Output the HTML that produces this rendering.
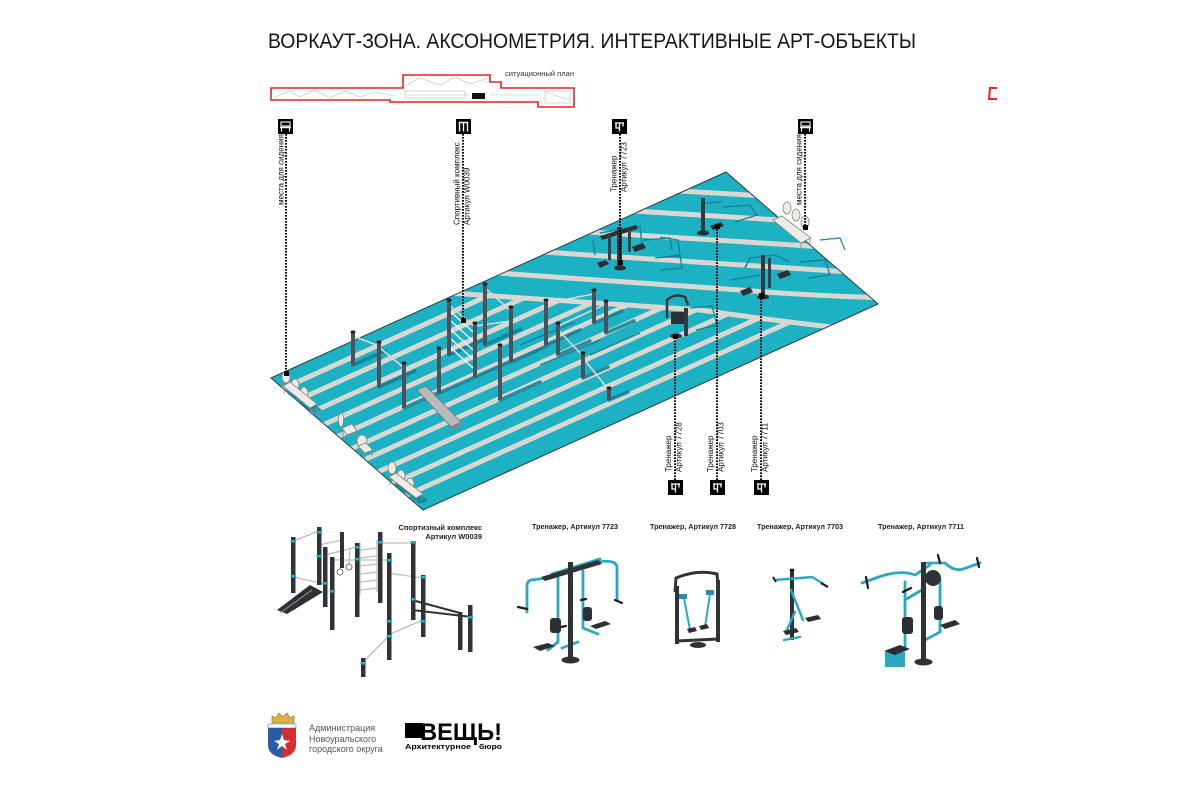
<!DOCTYPE html>
<html><head><meta charset="utf-8">
<style>
html,body{margin:0;padding:0;background:#fff;}
svg{display:block;}
text{font-family:"Liberation Sans","DejaVu Sans",sans-serif;}
</style></head><body>
<svg width="1200" height="799" viewBox="0 0 1200 799" xmlns="http://www.w3.org/2000/svg">
<defs>
<clipPath id="plat"><polygon points="271,378 726,172 878,304 423,510"/></clipPath>
<clipPath id="lower"><path d="M271,378 L457,294 L700,310 Q770,320 830,326 L423,510 Z"/></clipPath>
</defs>
<rect width="1200" height="799" fill="#fff"/>

<!-- Title -->
<text x="268" y="48" font-size="21" fill="#151515" textLength="648" lengthAdjust="spacingAndGlyphs">ВОРКАУТ-ЗОНА. АКСОНОМЕТРИЯ. ИНТЕРАКТИВНЫЕ АРТ-ОБЪЕКТЫ</text>

<!-- Situational plan -->
<polygon points="271,88 403,88 403,75 490,75 490,82 501,82 501,88 574,88 574,107 538,107 538,102 390,102 390,100 271,100" fill="#fff" stroke="#e52420" stroke-width="1.6"/>
<g stroke="#bbb" stroke-width="0.6" fill="none">
<path d="M275,97 L290,91 L300,97 L315,90 L330,98 L345,91 L360,97 L375,92 L395,96"/>
<path d="M405,86 L420,78 L440,85 L455,77 L470,84 L488,78"/>
<path d="M405,95 L470,95 M490,95 L540,95 M545,92 L570,100"/>
<rect x="405" y="91" width="60" height="7"/>
<rect x="545" y="91" width="25" height="12"/>
</g>
<rect x="472" y="93" width="13" height="6" fill="#111"/>
<text x="505" y="76" font-size="7" fill="#333" textLength="69" lengthAdjust="spacingAndGlyphs">ситуационный план</text>

<!-- red mark right -->
<polyline points="997,88 990,88 989,99 997,99" fill="none" stroke="#e52420" stroke-width="2"/>

<!-- Platform -->
<polygon points="271,378 726,172 878,304 423,510" fill="#1cb2c3"/>
<g clip-path="url(#plat)" stroke="#d9d7d0" stroke-width="5" fill="none">
<path d="M680,191 L765,196"/>
<path d="M634,211 L795,221"/>
<path d="M588,232 L825,247"/>
<path d="M543,252 L850,272"/>
<path d="M498,273 L740,290 Q800,295 885,298"/>
<path d="M450,293 L700,310 Q770,320 840,328"/>
</g>
<g clip-path="url(#lower)" stroke="#d9d7d0" stroke-width="5" fill="none">
<path d="M273,393 L753,176"/>
<path d="M287,405 L767,188"/>
<path d="M301,417 L781,200"/>
<path d="M314,429 L794,211"/>
<path d="M328,441 L808,223"/>
<path d="M342,453 L822,235"/>
<path d="M355,464 L835,247"/>
<path d="M369,476 L849,259"/>
<path d="M383,488 L863,271"/>
<path d="M396,500 L876,283"/>
</g>
<polygon points="271,378 726,172 878,304 423,510" fill="none" stroke="#2c3b3e" stroke-width="1"/>

<!-- shadows of objects -->
<g stroke="#117f97" stroke-width="3.5" opacity="0.85" stroke-linecap="round">
<line x1="353" y1="365" x2="385" y2="351"/>
<line x1="379" y1="387" x2="415" y2="371"/>
<line x1="404" y1="408" x2="440" y2="392"/>
<line x1="439" y1="393" x2="475" y2="377"/>
<line x1="449" y1="355" x2="485" y2="339"/>
<line x1="485" y1="345" x2="521" y2="329"/>
<line x1="475" y1="377" x2="511" y2="361"/>
<line x1="500" y1="400" x2="540" y2="382"/>
<line x1="511" y1="362" x2="547" y2="346"/>
<line x1="546" y1="345" x2="580" y2="330"/>
<line x1="558" y1="355" x2="590" y2="341"/>
<line x1="594" y1="323" x2="622" y2="311"/>
<line x1="606" y1="333" x2="634" y2="321"/>
<line x1="583" y1="378" x2="608" y2="367"/>
<line x1="609" y1="400" x2="628" y2="392"/>
</g>
<g stroke="#137a98" stroke-width="1.3" fill="none" opacity="0.9">
<path d="M540,365 L600,340 M520,345 L575,322 M590,355 L640,333"/>
<path d="M643,240 L670,238 L672,250 M655,258 L680,256 L682,268 L660,270"/>
<path d="M723,207 L750,205 L757,215 L735,222"/>
<path d="M660,237 L678,240 L680,255 L665,257"/>
<path d="M800,262 L825,260 L830,275 L808,278"/>
<path d="M820,240 L840,238 L845,250"/>
<path d="M690,308 L712,306 L717,325 L696,330"/>
<path d="M730,280 L760,275"/>
</g>

<!-- Incline board -->
<polygon points="417,390 426,386 461,422 451,427" fill="#b8bbbb" stroke="#6f7272" stroke-width="0.8"/>
<polygon points="451,427 461,422 461,425 452,430" fill="#888"/>

<!-- bars -->
<g stroke="#d7d7d7" stroke-width="1.6" fill="none">
<line x1="353" y1="336" x2="379" y2="346"/>
<line x1="379" y1="347" x2="404" y2="368"/>
<line x1="485" y1="288" x2="511" y2="311"/>
<line x1="475" y1="326" x2="511" y2="321"/>
<line x1="546" y1="303" x2="594" y2="294"/>
<line x1="558" y1="326" x2="606" y2="304"/>
<line x1="558" y1="330" x2="583" y2="356"/>
<line x1="583" y1="358" x2="609" y2="390"/>
<line x1="449" y1="305" x2="475" y2="327"/>
</g>
<g stroke="#f2f2f2" stroke-width="1.4">
<line x1="451" y1="312" x2="473" y2="332"/>
<line x1="451" y1="321" x2="473" y2="341"/>
<line x1="451" y1="330" x2="473" y2="350"/>
<line x1="451" y1="339" x2="473" y2="359"/>
<line x1="451" y1="348" x2="473" y2="368"/>
</g>

<!-- poles -->
<g fill="#4b5156">
<rect x="351" y="332" width="4" height="33"/>
<rect x="377" y="342" width="4" height="45"/>
<rect x="402" y="363" width="4" height="45"/>
<rect x="437" y="348" width="4" height="45"/>
<rect x="447" y="300" width="4" height="55"/>
<rect x="483" y="284" width="4" height="61"/>
<rect x="473" y="323" width="4" height="54"/>
<rect x="498" y="345" width="4" height="55"/>
<rect x="509" y="307" width="4" height="55"/>
<rect x="544" y="300" width="4" height="45"/>
<rect x="556" y="323" width="4" height="32"/>
<rect x="592" y="290" width="4" height="33"/>
<rect x="604" y="301" width="4" height="32"/>
<rect x="581" y="353" width="4" height="25"/>
<rect x="607" y="388" width="4" height="12"/>
</g>
<g fill="#222">
<ellipse cx="353" cy="332" rx="2.6" ry="1.6"/><ellipse cx="379" cy="342" rx="2.6" ry="1.6"/>
<ellipse cx="404" cy="363" rx="2.6" ry="1.6"/><ellipse cx="439" cy="348" rx="2.6" ry="1.6"/>
<ellipse cx="449" cy="300" rx="2.6" ry="1.6"/><ellipse cx="485" cy="284" rx="2.6" ry="1.6"/>
<ellipse cx="475" cy="323" rx="2.6" ry="1.6"/><ellipse cx="500" cy="345" rx="2.6" ry="1.6"/>
<ellipse cx="511" cy="307" rx="2.6" ry="1.6"/><ellipse cx="546" cy="300" rx="2.6" ry="1.6"/>
<ellipse cx="558" cy="323" rx="2.6" ry="1.6"/><ellipse cx="594" cy="290" rx="2.6" ry="1.6"/>
<ellipse cx="606" cy="301" rx="2.6" ry="1.6"/><ellipse cx="583" cy="353" rx="2.6" ry="1.6"/>
<ellipse cx="609" cy="388" rx="2.6" ry="1.6"/>
</g>

<!-- benches & chairs -->
<g fill="#ecebe6" stroke="#85857f" stroke-width="0.8">
<polygon points="288,394 295,390 322,410 314,414" fill="#127f97" stroke="none" opacity="0.8"/>
<ellipse cx="286" cy="377" rx="4" ry="6"/><ellipse cx="295" cy="385" rx="4" ry="6"/><ellipse cx="304" cy="393" rx="4" ry="6"/>
<polygon points="283,386 290,382 317,404 310,408"/>
<line x1="284" y1="387" x2="284" y2="394"/><line x1="310" y1="408" x2="310" y2="415"/><line x1="316" y1="404" x2="316" y2="410"/>

<polygon points="394,484 401,480 428,500 420,504" fill="#127f97" stroke="none" opacity="0.8"/>
<ellipse cx="392" cy="468" rx="4" ry="6"/><ellipse cx="401" cy="476" rx="4" ry="6"/><ellipse cx="410" cy="484" rx="4" ry="6"/>
<polygon points="389,477 396,473 423,494 416,498"/>
<line x1="390" y1="478" x2="390" y2="485"/><line x1="416" y1="498" x2="416" y2="505"/><line x1="422" y1="494" x2="422" y2="500"/>

<ellipse cx="341" cy="420" rx="2.5" ry="7"/>
<polygon points="342,428 352,424 357,431 347,435"/>
<line x1="343" y1="429" x2="343" y2="438"/><line x1="347" y1="435" x2="347" y2="442"/><line x1="356" y1="431" x2="356" y2="438"/>
<ellipse cx="362" cy="441" rx="5" ry="6"/>
<polygon points="358,446 366,443 373,450 365,453"/>
<line x1="359" y1="447" x2="359" y2="455"/><line x1="365" y1="453" x2="365" y2="459"/><line x1="372" y1="450" x2="372" y2="456"/>

<ellipse cx="787" cy="208" rx="4" ry="6"/><ellipse cx="796" cy="215" rx="4" ry="6"/><ellipse cx="805" cy="222" rx="4" ry="6"/>
<polygon points="773,220 782,216 811,238 801,243"/>
<line x1="775" y1="221" x2="775" y2="229"/><line x1="801" y1="243" x2="801" y2="251"/><line x1="810" y1="238" x2="810" y2="246"/>
</g>

<!-- equipment on platform -->
<g>
<path d="M593,240 L595,255 M600,233 L640,226 L642,245" stroke="#1a86aa" stroke-width="1.5" fill="none"/>
<rect x="617" y="227" width="5" height="40" fill="#33393e"/>
<polygon points="600,236 636,225 638,229 602,240" fill="#2b3035"/>
<rect x="608" y="235" width="3" height="25" fill="#3a4045"/>
<rect x="628" y="230" width="3" height="22" fill="#3a4045"/>
<polygon points="597,263 606,260 609,264 600,268" fill="#2a2e32"/>
<polygon points="632,247 643,243 646,248 635,252" fill="#2a2e32"/>
<ellipse cx="620" cy="268" rx="6" ry="2.5" fill="#2a2e32"/>
</g>
<g>
<rect x="701" y="198" width="4" height="34" fill="#33393e"/>
<path d="M705,203 L722,202" stroke="#1a86aa" stroke-width="1.8"/>
<polygon points="710,226 721,222 724,226 713,230" fill="#2a2e32"/>
<ellipse cx="703" cy="233" rx="6" ry="2.5" fill="#2a2e32"/>
</g>
<g>
<path d="M745,268 L750,258 L775,255 L790,262" stroke="#1a86aa" stroke-width="1.6" fill="none"/>
<rect x="761" y="255" width="4" height="42" fill="#33393e"/>
<rect x="768" y="258" width="3" height="30" fill="#3a4045"/>
<polygon points="740,291 750,287 753,292 743,296" fill="#2a2e32"/>
<polygon points="777,274 788,270 791,275 780,279" fill="#2a2e32"/>
<ellipse cx="763" cy="297" rx="6" ry="2.5" fill="#2a2e32"/>
</g>
<g>
<path d="M667,318 L667,300 Q675,293 685,297 L688,305" stroke="#33393e" stroke-width="2.5" fill="none"/>
<rect x="671" y="312" width="16" height="12" fill="#2b3035"/>
<rect x="684" y="308" width="4" height="28" fill="#33393e"/>
<ellipse cx="676" cy="336" rx="6" ry="2.5" fill="#2a2e32"/>
</g>

<!-- Leader lines -->
<g stroke="#000" stroke-width="2" stroke-dasharray="1.6,1.4" fill="none">
<line x1="286" y1="134" x2="286" y2="373"/>
<line x1="463" y1="134" x2="463" y2="320"/>
<line x1="620" y1="134" x2="620" y2="262"/>
<line x1="805" y1="134" x2="805" y2="227"/>
<line x1="675" y1="480" x2="675" y2="336"/>
<line x1="717" y1="480" x2="717" y2="226"/>
<line x1="761" y1="480" x2="761" y2="295"/>
</g>
<g fill="#000">
<rect x="284" y="371" width="5" height="5"/>
<rect x="461" y="318" width="5" height="5"/>
<rect x="618" y="260" width="5" height="5"/>
<rect x="803" y="225" width="5" height="5"/>
<rect x="673" y="334" width="5" height="5"/>
<rect x="715" y="224" width="5" height="5"/>
<rect x="759" y="293" width="5" height="5"/>
</g>

<!-- Label boxes (top) -->
<g>
<rect x="278" y="119" width="15" height="15" fill="#000"/>
<g transform="translate(278,119)" stroke="#fff" fill="none" stroke-width="1.1">
<rect x="3" y="3" width="9" height="4"/><line x1="2" y1="8.5" x2="13" y2="8.5" stroke-width="1.5"/><line x1="3.5" y1="9" x2="3.5" y2="12.5"/><line x1="11.5" y1="9" x2="11.5" y2="12.5"/></g>
<rect x="456" y="119" width="15" height="15" fill="#000"/>
<path transform="translate(456,119)" d="M3.5,12.5 V3.5 H11.5 V12.5 M7.5,3.5 V12.5" stroke="#fff" stroke-width="1.4" fill="none"/>
<rect x="612" y="119" width="15" height="15" fill="#000"/>
<path transform="translate(612,119)" d="M3,4 H12 M7.5,4 V12.5 M4,4 V9 H7.5 M11,4 V7.5" stroke="#fff" stroke-width="1.3" fill="none"/>
<rect x="798" y="119" width="15" height="15" fill="#000"/>
<g transform="translate(798,119)" stroke="#fff" fill="none" stroke-width="1.1">
<rect x="3" y="3" width="9" height="4"/><line x1="2" y1="8.5" x2="13" y2="8.5" stroke-width="1.5"/><line x1="3.5" y1="9" x2="3.5" y2="12.5"/><line x1="11.5" y1="9" x2="11.5" y2="12.5"/></g>
</g>
<!-- Label boxes (bottom) -->
<g>
<rect x="668" y="480" width="15" height="15" fill="#000"/>
<path transform="translate(668,480)" d="M3,4 H12 M7.5,4 V12.5 M4,4 V9 H7.5 M11,4 V7.5" stroke="#fff" stroke-width="1.3" fill="none"/>
<rect x="710" y="480" width="15" height="15" fill="#000"/>
<path transform="translate(710,480)" d="M3,4 H12 M7.5,4 V12.5 M4,4 V9 H7.5 M11,4 V7.5" stroke="#fff" stroke-width="1.3" fill="none"/>
<rect x="754" y="480" width="15" height="15" fill="#000"/>
<path transform="translate(754,480)" d="M3,4 H12 M7.5,4 V12.5 M4,4 V9 H7.5 M11,4 V7.5" stroke="#fff" stroke-width="1.3" fill="none"/>
</g>

<!-- Rotated labels -->
<g font-size="8" fill="#111">
<text transform="translate(283.5,205) rotate(-90)">места для сидения</text>
<text transform="translate(459.5,225) rotate(-90)">Спортивный комплекс</text>
<text transform="translate(469.5,225) rotate(-90)">Артикул W0039</text>
<text transform="translate(616.5,192) rotate(-90)">Тренажер</text>
<text transform="translate(626.5,192) rotate(-90)">Артикул 7723</text>
<text transform="translate(801.5,205) rotate(-90)">места для сидения</text>
<text transform="translate(671,472) rotate(-90)">Тренажер</text>
<text transform="translate(681.5,472) rotate(-90)">Артикул 7728</text>
<text transform="translate(713,472) rotate(-90)">Тренажер</text>
<text transform="translate(723.5,472) rotate(-90)">Артикул 7703</text>
<text transform="translate(757,472) rotate(-90)">Тренажер</text>
<text transform="translate(767.5,472) rotate(-90)">Артикул 7711</text>
</g>

<!-- Bottom product titles -->
<g font-size="7.5" font-weight="bold" fill="#222">
<text x="482" y="530" text-anchor="end">Спортизный комплекс</text>
<text x="482" y="539" text-anchor="end">Артикул W0039</text>
<text x="575" y="529" text-anchor="middle" textLength="86" lengthAdjust="spacingAndGlyphs">Тренажер, Артикул 7723</text>
<text x="693" y="529" text-anchor="middle" textLength="86" lengthAdjust="spacingAndGlyphs">Тренажер, Артикул 7728</text>
<text x="800" y="529" text-anchor="middle" textLength="86" lengthAdjust="spacingAndGlyphs">Тренажер, Артикул 7703</text>
<text x="921" y="529" text-anchor="middle" textLength="86" lengthAdjust="spacingAndGlyphs">Тренажер, Артикул 7711</text>
</g>

<!-- Sport complex product -->
<g>
<g stroke="#bdbdbd" stroke-width="1.3" fill="none">
<line x1="293" y1="541" x2="319" y2="531"/>
<line x1="293" y1="577" x2="325" y2="584"/>
<line x1="319" y1="545" x2="342" y2="540"/>
<line x1="325" y1="555" x2="357" y2="547"/>
<line x1="380" y1="543" x2="413" y2="543"/>
<line x1="387" y1="573" x2="423" y2="578"/>
<line x1="388" y1="637" x2="363" y2="662"/>
<line x1="330" y1="560" x2="389" y2="560"/>
<line x1="360" y1="542" x2="360" y2="595"/><line x1="377" y1="540" x2="377" y2="592"/>
<line x1="360" y1="550" x2="377" y2="548"/><line x1="360" y1="558" x2="377" y2="556"/>
<line x1="360" y1="566" x2="377" y2="564"/><line x1="360" y1="574" x2="377" y2="572"/>
<line x1="360" y1="582" x2="377" y2="580"/><line x1="360" y1="590" x2="377" y2="588"/>
<line x1="342" y1="545" x2="340" y2="569"/><line x1="350" y1="548" x2="349" y2="564"/>
</g>
<circle cx="340" cy="572" r="3" fill="none" stroke="#777" stroke-width="1"/>
<circle cx="349" cy="567" r="3" fill="none" stroke="#777" stroke-width="1"/>
<line x1="412" y1="610" x2="472" y2="617" stroke="#2f3337" stroke-width="2"/>
<line x1="412" y1="600" x2="460" y2="613" stroke="#2f3337" stroke-width="2"/>
<line x1="388" y1="635" x2="423" y2="620" stroke="#bdbdbd" stroke-width="1.3"/>
<polygon points="277,610 310,585 323,592 287,614" fill="#2d3135"/>
<line x1="280" y1="613" x2="312" y2="590" stroke="#999" stroke-width="1"/>
<g fill="#2f3337">
<rect x="291" y="537" width="4.5" height="56"/>
<rect x="317" y="527" width="4.5" height="58"/>
<rect x="323" y="547" width="4.5" height="60"/>
<rect x="330" y="557" width="4.5" height="73"/>
<rect x="340" y="532" width="4" height="36"/>
<rect x="355" y="543" width="4.5" height="74"/>
<rect x="378" y="532" width="4.5" height="71"/>
<rect x="387" y="553" width="4.5" height="107"/>
<rect x="411" y="542" width="4.5" height="78"/>
<rect x="421" y="575" width="4.5" height="62"/>
<rect x="458" y="612" width="4.5" height="38"/>
<rect x="468" y="605" width="4.5" height="47"/>
<rect x="361" y="658" width="4.5" height="19"/>
</g>
<g fill="#2aa8c2">
<rect x="290.5" y="540" width="5.5" height="2.5"/><rect x="290.5" y="575" width="5.5" height="2.5"/>
<rect x="316.5" y="531" width="5.5" height="2.5"/><rect x="316.5" y="555" width="5.5" height="2.5"/>
<rect x="322.5" y="582" width="5.5" height="2.5"/><rect x="329.5" y="590" width="5.5" height="2.5"/>
<rect x="354.5" y="546" width="5.5" height="2.5"/><rect x="354.5" y="558" width="5.5" height="2.5"/>
<rect x="377.5" y="541" width="5.5" height="2.5"/><rect x="386.5" y="559" width="5.5" height="2.5"/>
<rect x="386.5" y="635" width="5.5" height="2.5"/><rect x="410.5" y="541" width="5.5" height="2.5"/>
<rect x="410.5" y="598" width="5.5" height="2.5"/><rect x="420.5" y="576" width="5.5" height="2.5"/>
<rect x="420.5" y="620" width="5.5" height="2.5"/><rect x="360.5" y="662" width="5.5" height="2.5"/>
<rect x="467.5" y="616" width="5.5" height="2.5"/><rect x="386.5" y="620" width="5.5" height="2.5"/>
</g>
</g>

<!-- 7723 product -->
<g>
<g stroke="#2aa8c2" stroke-width="2.8" fill="none" stroke-linecap="round">
<path d="M548,578 L531,580 Q527,581 527,586 L527,612"/>
<path d="M598,562 Q617,559 617,568 L617,600"/>
<path d="M558,578 L558,642 L548,650"/>
<path d="M583,571 L583,628 L598,634"/>
<path d="M562,648 L578,642"/>
<path d="M552,574 L600,559"/>
</g>
<rect x="568" y="562" width="5" height="98" fill="#2f3337"/>
<ellipse cx="570.5" cy="660" rx="9" ry="3.5" fill="#2f3337"/>
<polygon points="541,577 598,560 602,564 545,581" fill="#2f3337"/>
<g stroke="#1b1b1b" stroke-width="2.2" stroke-linecap="round">
<line x1="518" y1="607" x2="527" y2="609"/>
<line x1="615" y1="600" x2="622" y2="603"/>
<line x1="561" y1="627" x2="566" y2="626"/>
<line x1="581" y1="600" x2="586" y2="599"/>
</g>
<polygon points="533,647 548,643 555,646 540,651" fill="#2b2f33"/>
<rect x="550" y="618" width="11" height="15" rx="3" fill="#2b2f33"/>
<polygon points="590,626 605,621 611,624 596,629" fill="#2b2f33"/>
<rect x="583" y="607" width="9" height="14" rx="3" fill="#2b2f33"/>
</g>

<!-- 7728 product -->
<g>
<path d="M675,592 L676,578 Q697,569 717,574 L718,586" stroke="#2f3337" stroke-width="3" fill="none"/>
<rect x="675" y="586" width="4" height="58" fill="#2f3337"/>
<rect x="716" y="580" width="4" height="62" fill="#2f3337"/>
<line x1="677" y1="641" x2="718" y2="639" stroke="#2f3337" stroke-width="3"/>
<ellipse cx="698" cy="645" rx="8" ry="3" fill="#2f3337"/>
<g stroke="#2aa8c2" stroke-width="2" fill="none">
<line x1="684" y1="598" x2="690" y2="630"/>
<line x1="710" y1="594" x2="705" y2="627"/>
</g>
<rect x="679" y="594" width="8" height="5" fill="#2a8ea8"/>
<rect x="706" y="590" width="8" height="5" fill="#2a8ea8"/>
<polygon points="687,629 695,627 697,631 689,633" fill="#2b2f33"/>
<polygon points="699,626 707,624 709,628 701,630" fill="#2b2f33"/>
</g>

<!-- 7703 product -->
<g>
<rect x="790" y="570" width="4" height="70" fill="#2f3337"/>
<ellipse cx="792" cy="570" rx="2.5" ry="1.5" fill="#1b1b1b"/>
<g stroke="#2aa8c2" stroke-width="2.4" fill="none" stroke-linecap="round">
<path d="M775,580 L812,577 L822,583"/>
<line x1="791" y1="590" x2="803" y2="620"/>
<line x1="795" y1="612" x2="786" y2="632"/>
<line x1="784" y1="640" x2="800" y2="637"/>
</g>
<line x1="821" y1="583" x2="828" y2="587" stroke="#1b1b1b" stroke-width="2.2"/>
<line x1="773" y1="577" x2="776" y2="582" stroke="#1b1b1b" stroke-width="2"/>
<polygon points="805,618 818,615 821,619 808,622" fill="#2b2f33"/>
<polygon points="783,631 796,628 799,632 786,635" fill="#2b2f33"/>
</g>

<!-- 7711 product -->
<g>
<g stroke="#2aa8c2" stroke-width="2.8" fill="none" stroke-linecap="round">
<path d="M862,583 L876,578 Q900,569 915,575 L930,565"/>
<path d="M927,563 L945,563 Q955,573 966,568 L980,563"/>
<path d="M905,582 L905,650"/>
<path d="M940,580 L940,632 L925,640"/>
<path d="M905,600 L925,588"/>
</g>
<rect x="921" y="562" width="5" height="100" fill="#2f3337"/>
<ellipse cx="923.5" cy="662" rx="9" ry="3.5" fill="#2f3337"/>
<circle cx="933" cy="578" r="8" fill="#2f3337"/>
<g stroke="#1b1b1b" stroke-width="2.2" stroke-linecap="round">
<line x1="866" y1="577" x2="868" y2="588"/>
<line x1="977" y1="558" x2="979" y2="567"/>
<line x1="903" y1="592" x2="911" y2="588"/>
<line x1="938" y1="555" x2="940" y2="563"/>
</g>
<rect x="885" y="652" width="20" height="15" fill="#2aa8c2"/>
<polygon points="884,651 900,645 910,649 895,655" fill="#2b2f33"/>
<rect x="902" y="617" width="11" height="17" rx="3" fill="#2b2f33"/>
<polygon points="940,625 955,620 960,624 945,629" fill="#2b2f33"/>
<rect x="934" y="606" width="9" height="14" rx="3" fill="#2b2f33"/>
</g>

<!-- Coat of arms -->
<g>
<polygon points="272,723 272,716 276,718 279,713 283,717 287,713 290,718 294,716 294,723" fill="#e0b340" stroke="#8a6b1f" stroke-width="0.6"/>
<path d="M268,724 L282,724 L282,758 Q268,755 268,745 Z" fill="#2a5ca8"/>
<path d="M282,724 L296,724 L296,745 Q296,755 282,758 Z" fill="#d32f2f"/>
<rect x="268" y="724" width="28" height="4" fill="#fff" stroke="#2a5ca8" stroke-width="0.5"/>
<polygon points="282,734 284,740 290,741 285,744 287,750 282,746 277,750 279,744 274,741 280,740" fill="#fff"/>
</g>
<g font-size="9" fill="#555">
<text x="309" y="731">Администрация</text>
<text x="309" y="742">Новоуральского</text>
<text x="309" y="752">городского округа</text>
</g>

<!-- ВЕЩЬ! logo -->
<rect x="405" y="723" width="18" height="15" fill="#000"/>
<text x="420" y="740" font-size="24" font-weight="bold" fill="#000" textLength="82" lengthAdjust="spacingAndGlyphs">ВЕЩЬ!</text>
<text x="405" y="749" font-size="7.5" font-weight="bold" fill="#000" textLength="66" lengthAdjust="spacingAndGlyphs">Архитектурное</text>
<text x="479" y="749" font-size="7.5" font-weight="bold" fill="#000" textLength="23" lengthAdjust="spacingAndGlyphs">бюро</text>
</svg>
</body></html>
